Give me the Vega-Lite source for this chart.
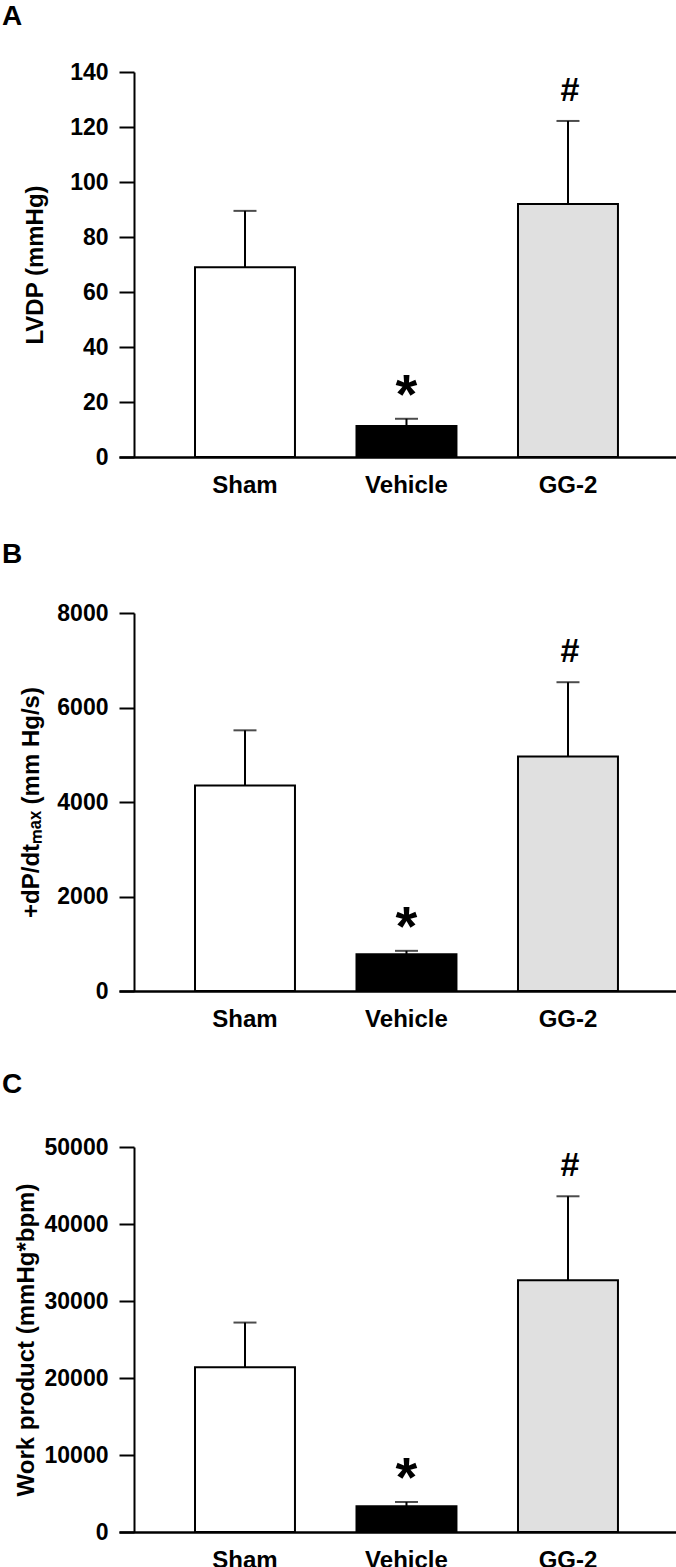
{
  "$schema": "https://vega.github.io/schema/vega-lite/v6.json",
  "autosize": {"type": "pad"},
  "padding": {"left": 2, "top": 3, "right": 0, "bottom": 0},
  "background": "white",
  "bounds": "flush",
  "spacing": 156,
  "config": {
    "font": "Liberation Sans",
    "view": {"stroke": null},
    "axis": {
      "domainColor": "black", "domainWidth": 2, "tickColor": "black", "tickWidth": 2,
      "tickSize": 15, "labelFont": "Liberation Sans", "labelFontSize": 23, "labelFontWeight": "bold",
      "labelColor": "black", "titleFont": "Liberation Sans", "titleFontSize": 24, "titleFontWeight": "bold",
      "titleColor": "black", "grid": false
    },
    "axisX": {"ticks": false, "tickSize": 0, "labelPadding": 16, "labelFontSize": 24, "labelAngle": 0, "title": null, "domainWidth": 2.5},
    "axisY": {"offset": -15, "labelPadding": 11, "titleBaseline": "alphabetic", "format": "d"},
    "title": {"fontSize": 28, "fontWeight": "bold", "font": "Liberation Sans", "anchor": "start", "frame": "group", "color": "black"}
  },
  "datasets": {
    "a": [
      {"group": "Sham", "mean": 69, "upper": 89.5},
      {"group": "Vehicle", "mean": 11.3, "upper": 13.9},
      {"group": "GG-2", "mean": 92, "upper": 122.2}
    ],
    "b": [
      {"group": "Sham", "mean": 4350, "upper": 5517},
      {"group": "Vehicle", "mean": 780, "upper": 850},
      {"group": "GG-2", "mean": 4965, "upper": 6535}
    ],
    "c": [
      {"group": "Sham", "mean": 21400, "upper": 27200},
      {"group": "Vehicle", "mean": 3350, "upper": 3900},
      {"group": "GG-2", "mean": 32700, "upper": 43600}
    ]
  },
  "vconcat": [
    {
      "width": 557, "height": 385,
      "title": {"text": "A", "dx": -117, "offset": 30},
      "data": {"name": "a"},
      "encoding": {
        "x": {"field": "group", "type": "nominal", "sort": ["Sham", "Vehicle", "GG-2"],
              "scale": {"paddingInner": 0.381, "paddingOuter": 0.415, "align": 0.567}}
      },
      "layer": [
        {"mark": {"type": "bar", "stroke": "black", "strokeWidth": 2},
         "encoding": {
           "y": {"field": "mean", "type": "quantitative", "title": "LVDP (mmHg)",
                 "scale": {"domain": [0, 140], "nice": false},
                 "axis": {"values": [0, 20, 40, 60, 80, 100, 120, 140], "titlePadding": 27}},
           "fill": {"field": "group", "type": "nominal", "legend": null,
                    "scale": {"domain": ["Sham", "Vehicle", "GG-2"], "range": ["white", "black", "#e0e0e0"]}}
         }},
        {"mark": {"type": "rule", "color": "black", "strokeWidth": 2},
         "encoding": {"y": {"field": "mean", "type": "quantitative", "title": "LVDP (mmHg)"}, "y2": {"field": "upper"}}},
        {"mark": {"type": "tick", "color": "black", "thickness": 2, "size": 23},
         "encoding": {"y": {"field": "upper", "type": "quantitative", "title": "LVDP (mmHg)"}}},
        {"transform": [{"filter": "datum.group == 'Vehicle'"}],
         "mark": {"type": "text", "text": "*", "fontSize": 56, "fontWeight": "bold", "baseline": "alphabetic", "dy": -6, "color": "black"},
         "encoding": {"y": {"field": "upper", "type": "quantitative", "title": "LVDP (mmHg)"}}},
        {"transform": [{"filter": "datum.group == 'GG-2'"}],
         "mark": {"type": "text", "text": "#", "fontSize": 34, "fontWeight": "bold", "baseline": "alphabetic", "dy": -20, "dx": 2, "color": "black"},
         "encoding": {"y": {"field": "upper", "type": "quantitative", "title": "LVDP (mmHg)"}}}
      ]
    },
    {
      "width": 557, "height": 378,
      "title": {"text": "B", "dx": -117, "offset": 33},
      "data": {"name": "b"},
      "encoding": {
        "x": {"field": "group", "type": "nominal", "sort": ["Sham", "Vehicle", "GG-2"],
              "scale": {"paddingInner": 0.381, "paddingOuter": 0.415, "align": 0.567}}
      },
      "layer": [
        {"mark": {"type": "bar", "stroke": "black", "strokeWidth": 2},
         "encoding": {
           "y": {"field": "mean", "type": "quantitative", "title": "+dP/dtₘₐₓ (mm Hg/s)",
                 "scale": {"domain": [0, 8000], "nice": false},
                 "axis": {"values": [0, 2000, 4000, 6000, 8000], "titlePadding": 18}},
           "fill": {"field": "group", "type": "nominal", "legend": null,
                    "scale": {"domain": ["Sham", "Vehicle", "GG-2"], "range": ["white", "black", "#e0e0e0"]}}
         }},
        {"mark": {"type": "rule", "color": "black", "strokeWidth": 2},
         "encoding": {"y": {"field": "mean", "type": "quantitative", "title": "+dP/dtₘₐₓ (mm Hg/s)"}, "y2": {"field": "upper"}}},
        {"mark": {"type": "tick", "color": "black", "thickness": 2, "size": 23},
         "encoding": {"y": {"field": "upper", "type": "quantitative", "title": "+dP/dtₘₐₓ (mm Hg/s)"}}},
        {"transform": [{"filter": "datum.group == 'Vehicle'"}],
         "mark": {"type": "text", "text": "*", "fontSize": 56, "fontWeight": "bold", "baseline": "alphabetic", "dy": -6, "color": "black"},
         "encoding": {"y": {"field": "upper", "type": "quantitative", "title": "+dP/dtₘₐₓ (mm Hg/s)"}}},
        {"transform": [{"filter": "datum.group == 'GG-2'"}],
         "mark": {"type": "text", "text": "#", "fontSize": 34, "fontWeight": "bold", "baseline": "alphabetic", "dy": -20, "dx": 2, "color": "black"},
         "encoding": {"y": {"field": "upper", "type": "quantitative", "title": "+dP/dtₘₐₓ (mm Hg/s)"}}}
      ]
    },
    {
      "width": 557, "height": 385,
      "title": {"text": "C", "dx": -117, "offset": 37},
      "data": {"name": "c"},
      "encoding": {
        "x": {"field": "group", "type": "nominal", "sort": ["Sham", "Vehicle", "GG-2"],
              "scale": {"paddingInner": 0.381, "paddingOuter": 0.415, "align": 0.567}}
      },
      "layer": [
        {"mark": {"type": "bar", "stroke": "black", "strokeWidth": 2},
         "encoding": {
           "y": {"field": "mean", "type": "quantitative", "title": "Work product (mmHg*bpm)",
                 "scale": {"domain": [0, 50000], "nice": false},
                 "axis": {"values": [0, 10000, 20000, 30000, 40000, 50000], "titlePadding": 11}},
           "fill": {"field": "group", "type": "nominal", "legend": null,
                    "scale": {"domain": ["Sham", "Vehicle", "GG-2"], "range": ["white", "black", "#e0e0e0"]}}
         }},
        {"mark": {"type": "rule", "color": "black", "strokeWidth": 2},
         "encoding": {"y": {"field": "mean", "type": "quantitative", "title": "Work product (mmHg*bpm)"}, "y2": {"field": "upper"}}},
        {"mark": {"type": "tick", "color": "black", "thickness": 2, "size": 23},
         "encoding": {"y": {"field": "upper", "type": "quantitative", "title": "Work product (mmHg*bpm)"}}},
        {"transform": [{"filter": "datum.group == 'Vehicle'"}],
         "mark": {"type": "text", "text": "*", "fontSize": 56, "fontWeight": "bold", "baseline": "alphabetic", "dy": -6, "color": "black"},
         "encoding": {"y": {"field": "upper", "type": "quantitative", "title": "Work product (mmHg*bpm)"}}},
        {"transform": [{"filter": "datum.group == 'GG-2'"}],
         "mark": {"type": "text", "text": "#", "fontSize": 34, "fontWeight": "bold", "baseline": "alphabetic", "dy": -20, "dx": 2, "color": "black"},
         "encoding": {"y": {"field": "upper", "type": "quantitative", "title": "Work product (mmHg*bpm)"}}}
      ]
    }
  ]
}
